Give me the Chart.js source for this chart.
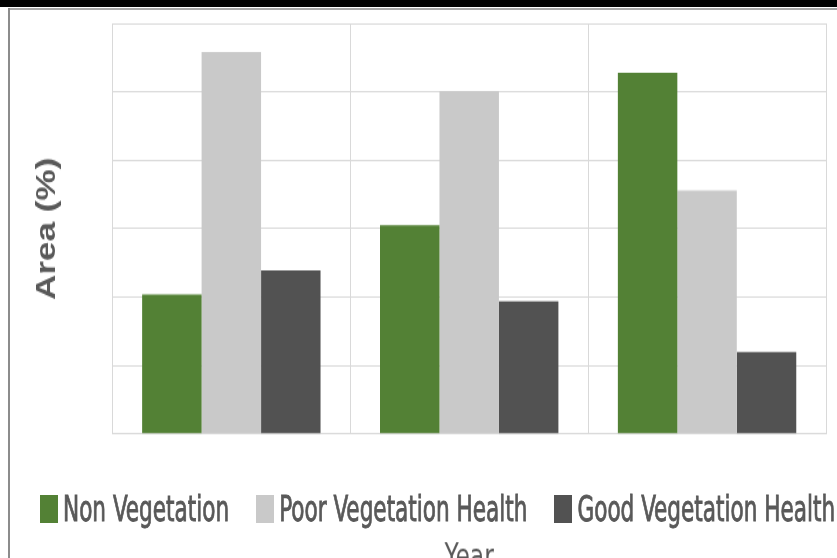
<!DOCTYPE html>
<html lang="en">
<head>
<meta charset="utf-8" />
<title>Vegetation area by year</title>
<script src="https://cdn.jsdelivr.net/npm/chart.js"></script>
<style>
    html, body { margin: 0; padding: 0; background: #fff; overflow: hidden; }
    #page { position: relative; width: 837px; height: 558px; overflow: hidden; }
    #areaChart { position: absolute; left: 0; top: 0; }
    .frame-top { position: absolute; left: 0; top: 0; width: 837px; height: 7px; background: #000; }
    .frame-top-line { position: absolute; left: 8px; top: 8px; width: 829px; height: 2px; background: #a6a6a6; }
    .frame-left-line { position: absolute; left: 8px; top: 8px; width: 2px; height: 550px; background: #8c8c8c; }
    #legend { position: absolute; left: 40px; top: 495px; display: flex; align-items: center; white-space: nowrap; }
    #legend .item { display: flex; align-items: center; margin-right: 27px; }
    #legend .box { width: 18px; height: 28px; margin-right: 5px; }
    #legend .label {
        display: inline-block;
        font-family: 'DejaVu Sans Condensed', 'Liberation Sans Narrow', sans-serif;
        font-size: 24px; line-height: 28px; color: #595959;
        -webkit-text-stroke: 0.6px #595959;
        transform: scaleY(1.45);
    }
</style>
</head>
<body>
<div id="page">
    <!-- drawn at 837x460, shown stretched to 598px tall -->
    <canvas id="areaChart" width="837" height="460" style="width: 837px; height: 598px;"></canvas>
    <div class="frame-top"></div>
    <div class="frame-top-line"></div>
    <div class="frame-left-line"></div>
    <div id="legend"></div>
</div>
<script>
    const years = ['Period 1', 'Period 2', 'Period 3'];
    const nonVegetation = [20.4, 30.5, 52.8];
    const poorVegetationHealth = [55.8, 50.1, 35.6];
    const goodVegetationHealth = [23.9, 19.4, 12.0];
    const yTicks = [0, 10, 20, 30, 40, 50, 60];

    const gridColor = '#d9d9d9';
    const textColor = '#595959';
    const narrowFont = "'DejaVu Sans Condensed', 'Liberation Sans Narrow', sans-serif";

    const ctx = document.getElementById('areaChart').getContext('2d');
    const chart = new Chart(ctx, {
        type: 'bar',
        data: {
            labels: years,
            datasets: [
                { label: 'Non Vegetation', data: nonVegetation, backgroundColor: '#538135' },
                { label: 'Poor Vegetation Health', data: poorVegetationHealth, backgroundColor: '#c9c9c9' },
                { label: 'Good Vegetation Health', data: goodVegetationHealth, backgroundColor: '#525252' }
            ]
        },
        options: {
            responsive: false,
            animation: false,
            devicePixelRatio: 1,
            layout: { padding: { left: 10, right: 11, top: 18, bottom: 0 } },
            datasets: {
                bar: { barPercentage: 1, categoryPercentage: 0.75 }
            },
            scales: {
                x: {
                    grid: {
                        offset: true,
                        drawTicks: false,
                        color: (c) => c.index === years.length ? 'transparent' : gridColor
                    },
                    border: { display: false },
                    ticks: { display: false }
                },
                y: {
                    min: yTicks[0],
                    max: yTicks[yTicks.length - 1],
                    afterBuildTicks: (axis) => { axis.ticks = yTicks.map(v => ({ value: v })); },
                    grid: { color: gridColor, drawTicks: false },
                    border: { display: false },
                    ticks: { display: false },
                    title: {
                        display: true,
                        text: 'Area (%)',
                        color: textColor,
                        font: { family: "'Liberation Sans', Arial, sans-serif", size: 27, weight: 'bold' },
                        padding: { top: 21, bottom: 49 }
                    }
                }
            },
            plugins: {
                legend: { display: false },
                tooltip: { enabled: false },
                title: {
                    display: true,
                    text: 'Year',
                    position: 'bottom',
                    fullSize: false,
                    color: textColor,
                    font: { family: narrowFont, size: 26, weight: 'normal' },
                    padding: { top: 80.6, bottom: 14.4 }
                }
            }
        }
    });

    // legend built from the chart's datasets
    const legendEl = document.getElementById('legend');
    chart.data.datasets.forEach((ds) => {
        const item = document.createElement('span');
        item.className = 'item';
        const box = document.createElement('span');
        box.className = 'box';
        box.style.background = ds.backgroundColor;
        const label = document.createElement('span');
        label.className = 'label';
        label.textContent = ds.label;
        item.appendChild(box);
        item.appendChild(label);
        legendEl.appendChild(item);
    });
</script>
</body>
</html>
